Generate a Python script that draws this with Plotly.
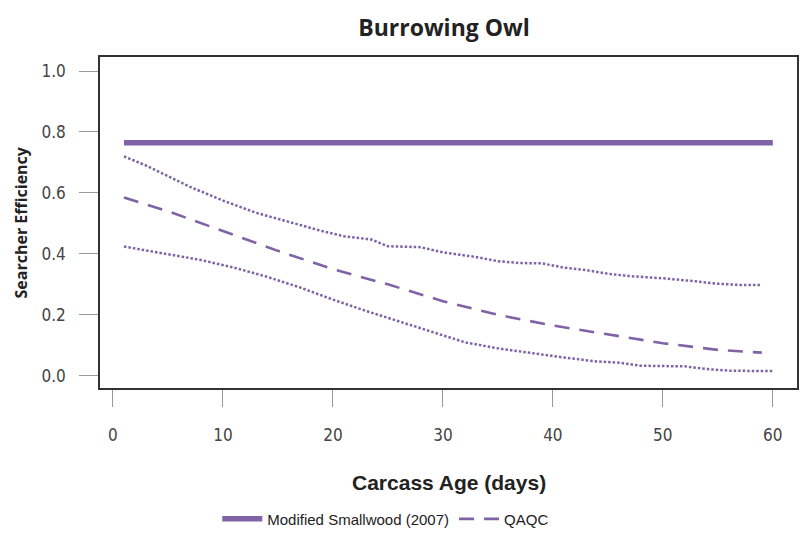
import plotly.graph_objects as go

# ---- data ----
smallwood_days = [1, 60]
smallwood_eff = [0.765, 0.765]

qaqc_days = [1, 5, 10, 15, 20, 25, 30, 35, 40, 45, 50, 55, 59]
qaqc_eff = [0.585, 0.54, 0.475, 0.41, 0.35, 0.30, 0.245, 0.20, 0.165, 0.135, 0.107, 0.085, 0.076]

upper_days = [1, 3, 5, 7, 10, 13, 16, 19, 21, 23.5, 25, 28, 30, 33, 35, 37, 39, 41, 43, 45, 47, 50, 53, 55, 57, 59]
upper_eff = [0.72, 0.69, 0.655, 0.62, 0.575, 0.535, 0.505, 0.475, 0.458, 0.447, 0.425, 0.422, 0.405,
             0.39, 0.376, 0.37, 0.369, 0.355, 0.347, 0.335, 0.327, 0.32, 0.31, 0.302, 0.298, 0.298]

lower_days = [1, 4, 8, 11, 14, 17, 20, 23, 26, 28, 30, 32, 35, 38, 41, 44, 46, 48, 50, 52, 54, 56, 58, 60]
lower_eff = [0.424, 0.405, 0.38, 0.355, 0.325, 0.29, 0.25, 0.213, 0.178, 0.155, 0.133, 0.11, 0.09,
             0.074, 0.06, 0.047, 0.043, 0.033, 0.032, 0.031, 0.022, 0.017, 0.016, 0.016]

x_ticks = [0, 10, 20, 30, 40, 50, 60]
y_ticks = [0.0, 0.2, 0.4, 0.6, 0.8, 1.0]
y_tick_labels = ["0.0", "0.2", "0.4", "0.6", "0.8", "1.0"]

PURPLE = "#7f63a6"
COND = "DejaVu Sans Condensed, Liberation Sans Narrow, Arial Narrow, sans-serif"

fig = go.Figure()
fig.add_trace(go.Scatter(x=smallwood_days, y=smallwood_eff, mode="lines",
                         name="Modified Smallwood (2007)",
                         line=dict(color=PURPLE, width=5.5)))
fig.add_trace(go.Scatter(x=qaqc_days, y=qaqc_eff, mode="lines", name="QAQC",
                         line=dict(color=PURPLE, width=2.6, dash="15px,10px")))
fig.add_trace(go.Scatter(x=upper_days, y=upper_eff, mode="lines", showlegend=False,
                         line=dict(color=PURPLE, width=2.5, dash="2.5px,2px")))
fig.add_trace(go.Scatter(x=lower_days, y=lower_eff, mode="lines", showlegend=False,
                         line=dict(color=PURPLE, width=2.5, dash="2.5px,2px")))

fig.update_layout(
    width=804, height=539,
    margin=dict(l=100, r=7, t=57, b=151, autoexpand=False),
    paper_bgcolor="white", plot_bgcolor="white",
    title=dict(text="<b>Burrowing Owl</b>", x=444 / 804, xanchor="center",
               y=1 - 28 / 539, yanchor="middle",
               font=dict(family="Open Sans, Noto Sans, sans-serif", size=23, color="#222")),
    xaxis=dict(range=[-1.18, 62.2], tickvals=x_ticks, showgrid=False, zeroline=False,
               showline=True, linecolor="#333", linewidth=1.5, mirror=True,
               ticks="outside", ticklen=17, tickcolor="#999", tickwidth=1,
               ticklabelstandoff=14, automargin=False,
               tickfont=dict(family=COND, size=17, color="#444")),
    yaxis=dict(range=[-0.04, 1.046], tickvals=y_ticks, ticktext=y_tick_labels,
               showgrid=False, zeroline=False,
               showline=True, linecolor="#333", linewidth=1.5, mirror=True,
               ticks="outside", ticklen=19, tickcolor="#999", tickwidth=1,
               ticklabelstandoff=10, automargin=False,
               tickfont=dict(family=COND, size=17, color="#444")),
    legend=dict(orientation="h", x=0.41, xanchor="center", y=-0.396, yanchor="middle",
                font=dict(family="Liberation Sans, Arial, sans-serif", size=15, color="#222"),
                itemwidth=40, bgcolor="rgba(0,0,0,0)"),
    annotations=[
        dict(text="<b>Carcass Age (days)</b>", xref="paper", yref="paper",
             x=0.5, y=(388 - 482) / 331, xanchor="center", yanchor="middle", showarrow=False,
             font=dict(family="Liberation Sans, Arial, sans-serif", size=21, color="#222")),
        dict(text="<b>Searcher Efficiency</b>", xref="paper", yref="paper",
             x=(20 - 100) / 697, y=0.5, xanchor="center", yanchor="middle", showarrow=False,
             textangle=-90,
             font=dict(family="Open Sans, Noto Sans, sans-serif", size=16, color="#222")),
    ],
)

fig.write_html("out.html", config={"displayModeBar": False},
               post_script="document.body.style.margin='0';")
